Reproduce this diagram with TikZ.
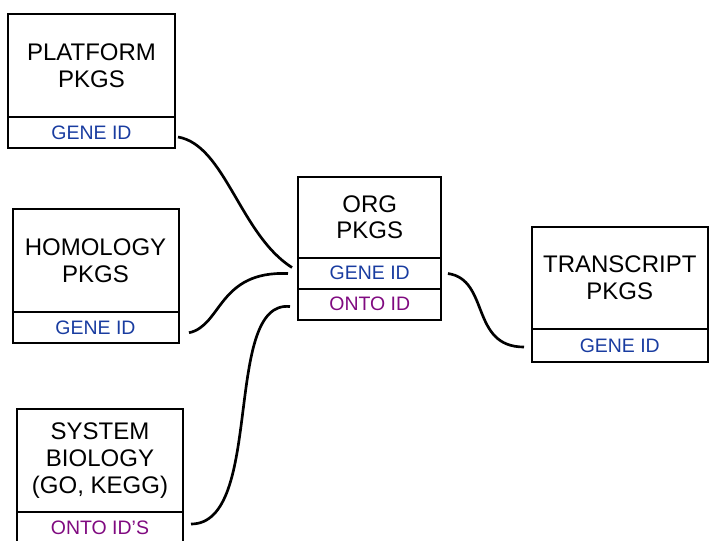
\documentclass[tikz,border=0pt]{standalone}
\usepackage{fontspec}
\setmainfont{Liberation Sans}
\usetikzlibrary{positioning}
\definecolor{idblue}{RGB}{25,60,160}
\definecolor{ontopurple}{RGB}{128,10,128}

\begin{document}
\begin{tikzpicture}[x=0.75pt, y=-0.75pt, node distance=0pt,
		pkg/.style={draw, line width=1.5pt, outer sep=0pt, inner sep=0pt, align=center, minimum width=124.5pt, minimum height=77.25pt, font=\fontsize{18}{20}\selectfont},
		idbox/.style={draw, line width=1.5pt, outer sep=0pt, inner sep=0pt, minimum width=124.5pt, minimum height=23.25pt, font=\fontsize{14.6}{16}\selectfont, text=idblue},
		link/.style={line width=2pt}]
			\useasboundingbox (0,0) rectangle (709,540);
			\node[pkg, anchor=north west, minimum width=125.25pt] (plat) at (8,14) {PLATFORM\\PKGS};
			\node[idbox, below =of plat, minimum width=125.25pt] (platid) {GENE ID};
			\node[pkg, anchor=north west, minimum height=77.6pt] (homol) at (12.5,209) {HOMOLOGY\\PKGS};
			\node[idbox, below =of homol, minimum height=22.9pt] (homolid) {GENE ID};
			\node[pkg, anchor=north west] (sysbio) at (17,409) {SYSTEM\\BIOLOGY\\(GO, KEGG)};
			\node[idbox, below =of sysbio, text=ontopurple] (sysbioid) {ONTO ID'S};
			\node[pkg, anchor=north west, minimum width=107.6pt, minimum height=60.4pt] (org) at (298,177) {ORG\\PKGS};
				\node[idbox, below =of org, minimum width=107.6pt] (orggene) {GENE ID};
				\node[idbox, below =of orggene, minimum width=107.6pt, text=ontopurple] (orgonto) {ONTO ID};
			\node[pkg, anchor=north west, minimum width=132.4pt, minimum height=76.5pt] (trans) at (531.5,227) {TRANSCRIPT\\PKGS};
			\node[idbox, below =of trans, minimum width=132.4pt, minimum height=24.75pt] (transid) {GENE ID};
			% links into the org package
			\draw[link] ([shift={(3,4.5)}]platid.east) .. controls +(47,8) and +(-52,-33) .. ([shift={(-6,-5.5)}]orggene.west);
			\draw[link] ([shift={(10.5,5)}]homolid.east) .. controls +(33,-7) and +(-70,-3) .. ([shift={(-10,0.5)}]orggene.west);
			\draw[link] ([shift={(8,-3.5)}]sysbioid.east) .. controls +(74,0) and +(-68,-7) .. ([shift={(-8,2.5)}]orgonto.west);
			\draw[link] ([shift={(6.5,0.5)}]orggene.east) .. controls +(42,6) and +(-54,0) .. ([shift={(-7.5,1.5)}]transid.west);
		\end{tikzpicture}
\end{document}
